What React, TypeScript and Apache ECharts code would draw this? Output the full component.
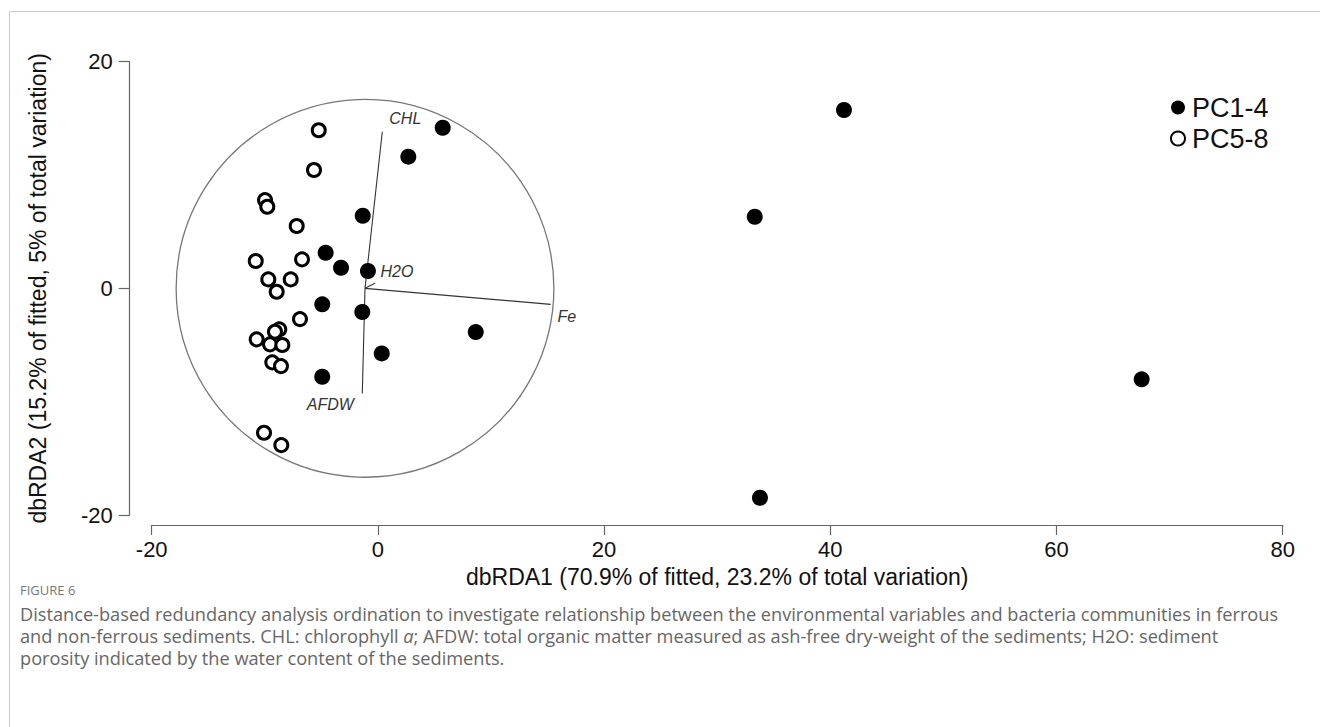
import React, { useEffect, useRef } from "react";
import * as echarts from "echarts";

// PC1-4 (filled) sample scores [dbRDA1, dbRDA2]
const pc14X = [5.73, 2.69, -1.34, -4.62, -3.26, -0.88, -4.92, -1.38, 8.65, 0.34, -4.92, 41.21, 33.32, 67.53, 33.78];
const pc14Y = [14.17, 11.62, 6.41, 3.14, 1.82, 1.53, -1.41, -2.09, -3.86, -5.74, -7.8, 15.74, 6.32, -8.03, -18.48];
// PC5-8 (open) sample scores
const pc58X = [-5.23, -5.65, -9.98, -9.78, -7.18, -10.8, -6.71, -9.69, -7.71, -8.95, -6.89, -8.72, -9.1, -10.72, -9.54, -8.45, -9.34, -8.57, -10.07, -8.54];
const pc58Y = [13.95, 10.44, 7.79, 7.2, 5.5, 2.41, 2.56, 0.79, 0.79, -0.3, -2.71, -3.62, -3.83, -4.5, -4.94, -5.0, -6.53, -6.86, -12.74, -13.83];

// Environmental vectors
const vecNames = ["CHL", "H2O", "Fe", "AFDW"];
const vecOrigin = [-1.14, 0];
const vecEndX = [0.39, -0.26, 15.28, -1.38];
const vecEndY = [13.82, 0.44, -1.41, -9.27];
const circleRadius = 16.7;

const seriesNames = ["PC1-4", "PC5-8"];
const xTicks = [-20, 0, 20, 40, 60, 80];
const yTicks = [-20, 0, 20];
const xTitle = "dbRDA1 (70.9% of fitted, 23.2% of total variation)";
const yTitle = "dbRDA2 (15.2% of fitted, 5% of total variation)";

const captionHead = "FIGURE 6";
const captionLines = [
  "Distance-based redundancy analysis ordination to investigate relationship between the environmental variables and bacteria communities in ferrous",
  "and non-ferrous sediments. CHL: chlorophyll {i|a}; AFDW: total organic matter measured as ash-free dry-weight of the sediments; H2O: sediment",
  "porosity indicated by the water content of the sediments.",
];

// label pixel offsets (style)
const labelOffsets: number[][] = [
  [23, -13],
  [22, -12],
  [16, 12],
  [-32, 11],
];

const FONT = "'Liberation Sans', Arial, sans-serif";
const CAP_FONT = "'Open Sans', sans-serif";

export default function App() {
  const ref = useRef<HTMLDivElement>(null);
  useEffect(() => {
    if (!ref.current) return;
    const chart = echarts.init(ref.current, undefined, { renderer: "svg" });
    const pc14 = pc14X.map((x, i) => [x, pc14Y[i]]);
    const pc58 = pc58X.map((x, i) => [x, pc58Y[i]]);
    const vecData = vecNames.map((n, i) => [vecOrigin[0], vecOrigin[1], vecEndX[i], vecEndY[i], i]);

    const option: any = {
      animation: false,
      backgroundColor: "#fff",
      textStyle: { fontFamily: FONT },
      grid: { left: 151.7, right: 37.3, top: 61.7, bottom: 212, containLabel: false },
      legend: {
        orient: "vertical",
        left: 1165,
        top: 89,
        itemWidth: 14,
        itemHeight: 14,
        itemGap: 4,
        icon: "circle",
        data: seriesNames,
        textStyle: { fontSize: 27, lineHeight: 24, color: "#111", fontFamily: FONT, padding: [0, 0, 0, 2] },
      },
      xAxis: {
        type: "value",
        min: -20,
        max: 80,
        interval: 20,
        offset: 10,
        name: xTitle,
        nameLocation: "middle",
        nameGap: 40,
        nameTextStyle: { fontSize: 23, color: "#111", fontFamily: FONT },
        axisLine: { show: true, onZero: false, lineStyle: { color: "#666", width: 1.2 } },
        axisTick: { show: true, length: 10, lineStyle: { color: "#666", width: 1.2 } },
        axisLabel: { fontSize: 22, color: "#111", margin: 13, fontFamily: FONT },
        splitLine: { show: false },
      },
      yAxis: {
        type: "value",
        min: -20,
        max: 20,
        interval: 20,
        offset: 22,
        name: yTitle,
        nameLocation: "middle",
        nameGap: 80,
        nameRotate: 90,
        nameTextStyle: { fontSize: 23, color: "#111", fontFamily: FONT },
        axisLine: { show: true, onZero: false, lineStyle: { color: "#666", width: 1.2 } },
        axisTick: { show: true, length: 11, lineStyle: { color: "#666", width: 1.2 } },
        axisLabel: { fontSize: 22, color: "#111", margin: 17, fontFamily: FONT },
        splitLine: { show: false },
      },
      series: [
        {
          type: "custom",
          silent: true,
          z: 1,
          data: [[vecOrigin[0], vecOrigin[1], circleRadius]],
          renderItem: (params: any, api: any) => {
            const c = api.coord([api.value(0), api.value(1)]);
            const s = api.size([api.value(2), api.value(2)]);
            return {
              type: "circle",
              shape: { cx: c[0], cy: c[1], r: s[0] },
              style: { fill: "none", stroke: "#777", lineWidth: 1.3 },
            };
          },
        },
        {
          type: "custom",
          silent: true,
          z: 2,
          data: vecData,
          renderItem: (params: any, api: any) => {
            const p0 = api.coord([api.value(0), api.value(1)]);
            const p1 = api.coord([api.value(2), api.value(3)]);
            const idx = params.dataIndex;
            const off = labelOffsets[idx];
            return {
              type: "group",
              children: [
                {
                  type: "line",
                  shape: { x1: p0[0], y1: p0[1], x2: p1[0], y2: p1[1] },
                  style: { stroke: "#333", lineWidth: 1.1 },
                },
                {
                  type: "text",
                  x: p1[0] + off[0],
                  y: p1[1] + off[1],
                  style: {
                    text: vecNames[idx],
                    fontSize: 16,
                    fontStyle: "italic",
                    fontFamily: FONT,
                    fill: "#333",
                    align: "center",
                    verticalAlign: "middle",
                  },
                },
              ],
            };
          },
        },
        {
          name: seriesNames[0],
          type: "scatter",
          z: 3,
          data: pc14,
          symbol: "circle",
          symbolSize: 16,
          itemStyle: { color: "#000", opacity: 1 },
        },
        {
          name: seriesNames[1],
          type: "scatter",
          z: 3,
          data: pc58,
          symbol: "circle",
          symbolSize: 13,
          itemStyle: { color: "#fff", borderColor: "#000", borderWidth: 3, opacity: 1 },
        },
      ],
      graphic: [
        {
          type: "rect",
          silent: true,
          shape: { x: 9.5, y: 11.5, width: 1400, height: 900 },
          style: { fill: "none", stroke: "#ccc", lineWidth: 1 },
          z: -10,
        },
        {
          type: "text",
          x: 20,
          y: 590,
          style: {
            text: captionHead,
            fontSize: 13,
            lineHeight: 14,
            fontFamily: CAP_FONT,
            fill: "#777",
            verticalAlign: "middle",
          },
        },
        ...captionLines.map((t, i) => ({
          type: "text",
          x: 20,
          y: 614 + i * 22,
          style: {
            text: t,
            fontSize: 18.2,
            lineHeight: 20,
            fontFamily: CAP_FONT,
            fill: "#666",
            verticalAlign: "middle",
            rich: {
              i: { fontStyle: "italic", fontSize: 18.2, lineHeight: 20, fontFamily: CAP_FONT, fill: "#666" },
            },
          },
        })),
      ],
    };
    chart.setOption(option);
    return () => chart.dispose();
  }, []);
  return (
    <div
      ref={ref}
      style={{ position: "fixed", left: 0, top: 0, width: 1320, height: 727, background: "#fff" }}
    />
  );
}
